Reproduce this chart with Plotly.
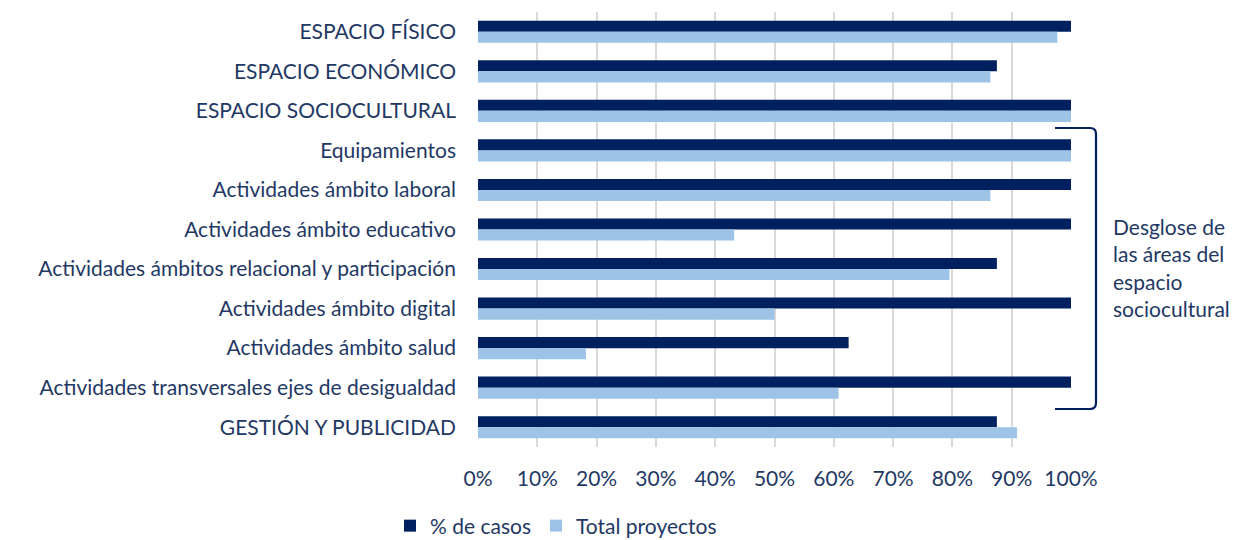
import plotly.graph_objects as go

categories = [
    "ESPACIO FÍSICO",
    "ESPACIO ECONÓMICO",
    "ESPACIO SOCIOCULTURAL",
    "Equipamientos",
    "Actividades ámbito laboral",
    "Actividades ámbito educativo",
    "Actividades ámbitos relacional y participación",
    "Actividades ámbito digital",
    "Actividades ámbito salud",
    "Actividades transversales ejes de desigualdad",
    "GESTIÓN Y PUBLICIDAD",
]
pct_casos = [100, 87.5, 100, 100, 100, 100, 87.5, 100, 62.5, 100, 87.5]
total_proyectos = [97.7, 86.4, 100, 100, 86.4, 43.2, 79.5, 50, 18.2, 60.8, 90.9]
series_names = ["% de casos", "Total proyectos"]
x_ticks = list(range(0, 101, 10))
x_tick_labels = [f"{t}%" for t in x_ticks]
bracket_note = "Desglose de<br>las áreas del<br>espacio<br>sociocultural"

TEXT = "#1F3864"
DARK = "#002060"
LIGHT = "#9DC3E6"
FONT = "Lato, Carlito, 'Open Sans', sans-serif"
FS = 21

fig = go.Figure()
fig.add_trace(go.Bar(y=categories, x=pct_casos, orientation="h", name=series_names[0],
                     marker=dict(color=DARK, line=dict(width=0))))
fig.add_trace(go.Bar(y=categories, x=total_proyectos, orientation="h", name=series_names[1],
                     marker=dict(color=LIGHT, line=dict(width=0))))

# page body has an 8px margin: figure pixel = screen pixel - 8
OFF = 8
W, H = 1238 - OFF, 540 - OFF
L, T = 478 - OFF, 12 - OFF
R = W - (1071 - OFF)
B = H - (447 - OFF)
pw, ph = W - L - R, H - T - B

def px(sx):
    return (sx - OFF - L) / pw

def py(sy):
    return (H - B - (sy - OFF)) / ph

# bracket path in paper coords (screen-pixel anchors)
x0, x1 = px(1055), px(1096)
xc = px(1090)
ytop, ybot = py(128), py(409)
yct, ycb = py(134), py(403)
path = (f"M {x0},{ytop} L {xc},{ytop} Q {x1},{ytop} {x1},{yct} "
        f"L {x1},{ycb} Q {x1},{ybot} {xc},{ybot} L {x0},{ybot}")

fig.update_layout(
    width=W, height=H,
    margin=dict(l=L, r=R, t=T, b=B, autoexpand=False),
    paper_bgcolor="white", plot_bgcolor="white",
    font=dict(family=FONT, size=FS, color=TEXT),
    barmode="group", bargap=0.44, bargroupgap=0,
    xaxis=dict(range=[0, 100], tickvals=x_ticks, ticktext=x_tick_labels,
               showgrid=True, gridcolor="#D9D9D9", gridwidth=1.5,
               zeroline=False, showline=False, ticks="",
               ticklabelstandoff=17, tickfont=dict(size=FS, color=TEXT), fixedrange=True),
    yaxis=dict(autorange="reversed", showgrid=False, showline=False, ticks="",
               ticklabelstandoff=21, tickfont=dict(size=FS, color=TEXT)),
    legend=dict(orientation="h", x=px(390), xanchor="left", y=py(526), yanchor="middle",
                font=dict(size=FS, color=TEXT), bgcolor="rgba(0,0,0,0)"),
    shapes=[dict(type="path", xref="paper", yref="paper", path=path,
                 line=dict(color=DARK, width=2.2))],
    annotations=[dict(xref="paper", yref="paper", x=px(1111), y=py(267),
                      xanchor="left", yanchor="middle", align="left", showarrow=False,
                      text=bracket_note, font=dict(size=FS, color=TEXT))],
)

fig.write_html("out.html")
